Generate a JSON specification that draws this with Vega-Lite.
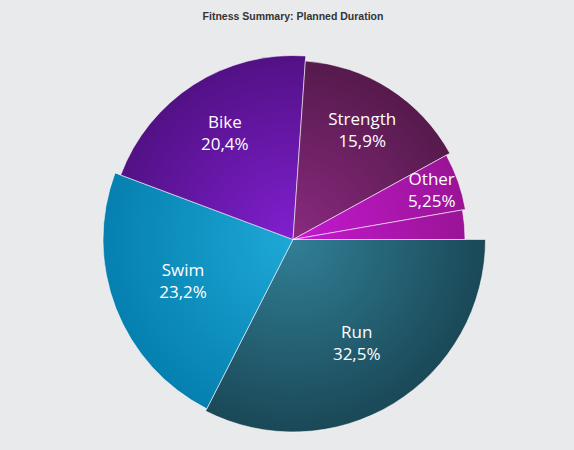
{
  "$schema": "https://vega.github.io/schema/vega-lite/v6.json",
  "title": {
    "text": "Fitness Summary: Planned Duration",
    "anchor": "middle",
    "font": "Liberation Sans",
    "fontSize": 10.5,
    "fontWeight": "bold",
    "color": "#333333",
    "offset": 18
  },
  "width": 586,
  "height": 399,
  "autosize": "none",
  "padding": {"left": 0, "top": 40, "right": 0, "bottom": 11},
  "background": "#e9eaec",
  "view": {"stroke": null},
  "data": {
    "values": [
      {"category": "Run", "value": 32.5, "label": "Run\n32,5%"},
      {"category": "Swim", "value": 23.2, "label": "Swim\n23,2%"},
      {"category": "Bike", "value": 20.4, "label": "Bike\n20,4%"},
      {"category": "Strength", "value": 15.9, "label": "Strength\n15,9%"},
      {"category": "Other", "value": 5.25, "label": "Other\n5,25%"},
      {"category": "Rest", "value": 2.75, "label": ""}
    ]
  },
  "encoding": {
    "theta": {
      "field": "value",
      "type": "quantitative",
      "stack": true,
      "scale": {"range": [1.5708, 7.854]}
    },
    "order": {"field": "value", "sort": "descending"}
  },
  "layer": [
    {
      "mark": {"type": "arc", "stroke": "#ffffff", "strokeOpacity": 0.55, "strokeWidth": 1},
      "encoding": {
        "radius": {
          "field": "value",
          "type": "quantitative",
          "scale": {
            "type": "linear",
            "zero": false,
            "domain": [2.75, 5.25, 15.9, 20.4, 23.2, 32.5],
            "range": [172, 175, 179, 184, 190, 192.5]
          }
        },
        "radius2": {"value": 0},
        "color": {
          "condition": [
            {
              "test": "datum.category === 'Run'",
              "value": {"gradient": "radial", "x1": 0.312, "y1": 0.156, "r1": 0, "x2": 0.312, "y2": 0.156, "r2": 0.69,
                "stops": [{"offset": 0, "color": "#317f96"}, {"offset": 1, "color": "#1a4857"}]}
            },
            {
              "test": "datum.category === 'Swim'",
              "value": {"gradient": "radial", "x1": 0.903, "y1": 0.282, "r1": 0, "x2": 0.903, "y2": 0.282, "r2": 0.807,
                "stops": [{"offset": 0, "color": "#1ea8d6"}, {"offset": 1, "color": "#0580b0"}]}
            },
            {
              "test": "datum.category === 'Bike'",
              "value": {"gradient": "radial", "x1": 0.931, "y1": 0.997, "r1": 0, "x2": 0.931, "y2": 0.997, "r2": 0.994,
                "stops": [{"offset": 0, "color": "#801fd0"}, {"offset": 1, "color": "#521185"}]}
            },
            {
              "test": "datum.category === 'Strength'",
              "value": {"gradient": "radial", "x1": 0.061, "y1": 1.0, "r1": 0, "x2": 0.061, "y2": 1.0, "r2": 1.0,
                "stops": [{"offset": 0, "color": "#8a2a80"}, {"offset": 1, "color": "#561a4c"}]}
            },
            {
              "test": "datum.category === 'Other'",
              "value": {"gradient": "radial", "x1": 0.0, "y1": 0.744, "r1": 0, "x2": 0.0, "y2": 0.744, "r2": 1.015,
                "stops": [{"offset": 0, "color": "#c418d0"}, {"offset": 1, "color": "#9a1496"}]}
            }
          ],
          "value": {"gradient": "radial", "x1": 0.0, "y1": 0.586, "r1": 0, "x2": 0.0, "y2": 0.586, "r2": 1.0,
            "stops": [{"offset": 0, "color": "#c418d0"}, {"offset": 1, "color": "#9a1496"}]}
        }
      }
    },
    {
      "mark": {
        "type": "text",
        "font": "Open Sans",
        "fontSize": 17,
        "lineHeight": 22,
        "lineBreak": "\n",
        "color": "#ffffff",
        "align": "center",
        "baseline": "middle",
        "dy": -11
      },
      "encoding": {
        "radius": {
          "field": "value",
          "type": "quantitative",
          "scale": {
            "type": "linear",
            "zero": false,
            "domain": [2.75, 5.25, 15.9, 20.4, 23.2, 32.5],
            "range": [147, 147, 128.5, 126, 118, 122]
          }
        },
        "text": {"field": "label", "type": "nominal"}
      }
    }
  ],
  "resolve": {"scale": {"radius": "independent"}}
}
